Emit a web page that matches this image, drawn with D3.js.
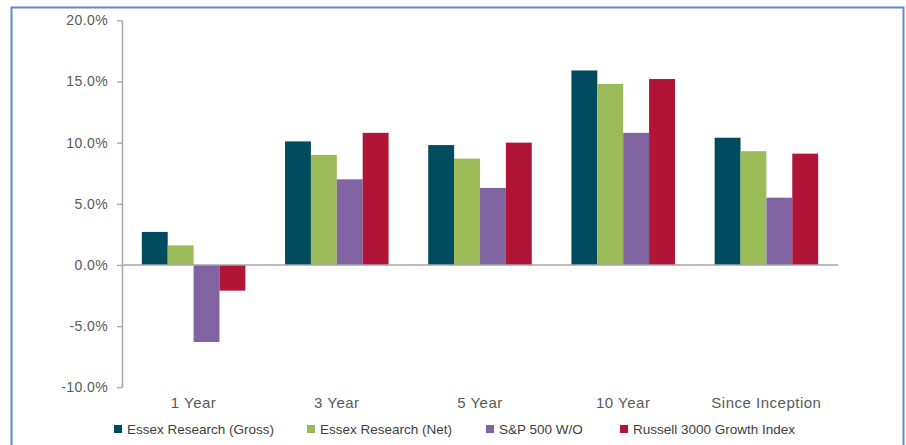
<!DOCTYPE html>
<html>
<head>
<meta charset="utf-8">
<script src="https://cdn.jsdelivr.net/npm/d3@7"></script>
<style>
  body { margin: 0; background: #fff; }
  svg text { font-family: "Liberation Sans", Arial, sans-serif; }
</style>
</head>
<body>
<div id="chart"></div>
<script>
var categories = ["1 Year", "3 Year", "5 Year", "10 Year", "Since Inception"];
var seriesNames = ["Essex Research (Gross)", "Essex Research (Net)", "S&P 500 W/O", "Russell 3000 Growth Index"];
var gross = [2.7, 10.1, 9.8, 15.9, 10.4];
var net = [1.6, 9.0, 8.7, 14.8, 9.3];
var sp500 = [-6.3, 7.0, 6.3, 10.8, 5.5];
var russell = [-2.1, 10.8, 10.0, 15.2, 9.1];
var yTicks = [-10, -5, 0, 5, 10, 15, 20];
var colors = ["#004c5f", "#9bbb59", "#8064a2", "#b01538"];

var seriesValues = [gross, net, sp500, russell];

var width = 906, height = 445;
var svg = d3.select("#chart").append("svg")
  .attr("width", width)
  .attr("height", height);

// frame
svg.append("path")
  .attr("d", "M11.5,445 V7.5 H903.5 V445")
  .attr("fill", "none")
  .attr("stroke", "#5b8bd0")
  .attr("stroke-width", 2);

var x0 = d3.scaleBand().domain(categories).range([122, 838])
  .paddingInner(0.277).paddingOuter(0.1385);
var x1 = d3.scaleBand().domain(seriesNames).range([0, x0.bandwidth()]);
var y = d3.scaleLinear().domain([-10, 20]).range([387.3, 20.3]);

// y axis
var yAxis = svg.append("g")
  .attr("transform", "translate(122,0)")
  .call(d3.axisLeft(y).tickValues(yTicks).tickSize(5).tickSizeOuter(0)
    .tickFormat(function (d) { return d.toFixed(1) + "%"; }));
yAxis.select(".domain").attr("stroke", "#a6a6a6").attr("stroke-width", 1.5);
yAxis.selectAll(".tick line").attr("stroke", "#a6a6a6").attr("stroke-width", 1.3);
yAxis.selectAll(".tick text")
  .attr("x", -14)
  .attr("fill", "#595959")
  .style("font-size", "14px")
  .style("letter-spacing", "0.4px");

// bars
var groups = svg.append("g").selectAll("g")
  .data(categories)
  .enter().append("g")
  .attr("transform", function (d) { return "translate(" + x0(d) + ",0)"; });

groups.selectAll("rect")
  .data(function (c, i) {
    return seriesNames.map(function (s, j) { return { s: s, v: seriesValues[j][i], j: j }; });
  })
  .enter().append("rect")
  .attr("x", function (d) { return x1(d.s); })
  .attr("width", x1.bandwidth())
  .attr("y", function (d) { return y(Math.max(0, d.v)); })
  .attr("height", function (d) { return Math.abs(y(d.v) - y(0)); })
  .attr("fill", function (d) { return colors[d.j]; });

// zero line
svg.append("line")
  .attr("x1", 122).attr("x2", 838)
  .attr("y1", y(0)).attr("y2", y(0))
  .attr("stroke", "#a6a6a6")
  .attr("stroke-width", 1.5);

// category labels
svg.append("g").selectAll("text")
  .data(categories)
  .enter().append("text")
  .attr("x", function (d) { return x0(d) + x0.bandwidth() / 2; })
  .attr("y", 408)
  .attr("text-anchor", "middle")
  .attr("fill", "#595959")
  .style("font-size", "15px")
  .style("letter-spacing", "0.5px")
  .text(function (d) { return d; });

// legend
var legendX = [114, 307, 486, 620];
var legend = svg.append("g").selectAll("g")
  .data(seriesNames)
  .enter().append("g")
  .attr("transform", function (d, i) { return "translate(" + legendX[i] + ",425)"; });
legend.append("rect")
  .attr("width", 8).attr("height", 8)
  .attr("fill", function (d, i) { return colors[i]; });
legend.append("text")
  .attr("x", 13).attr("y", 8.5)
  .attr("fill", "#404040")
  .style("font-size", "13.5px")
  .text(function (d) { return d; });
</script>
</body>
</html>
